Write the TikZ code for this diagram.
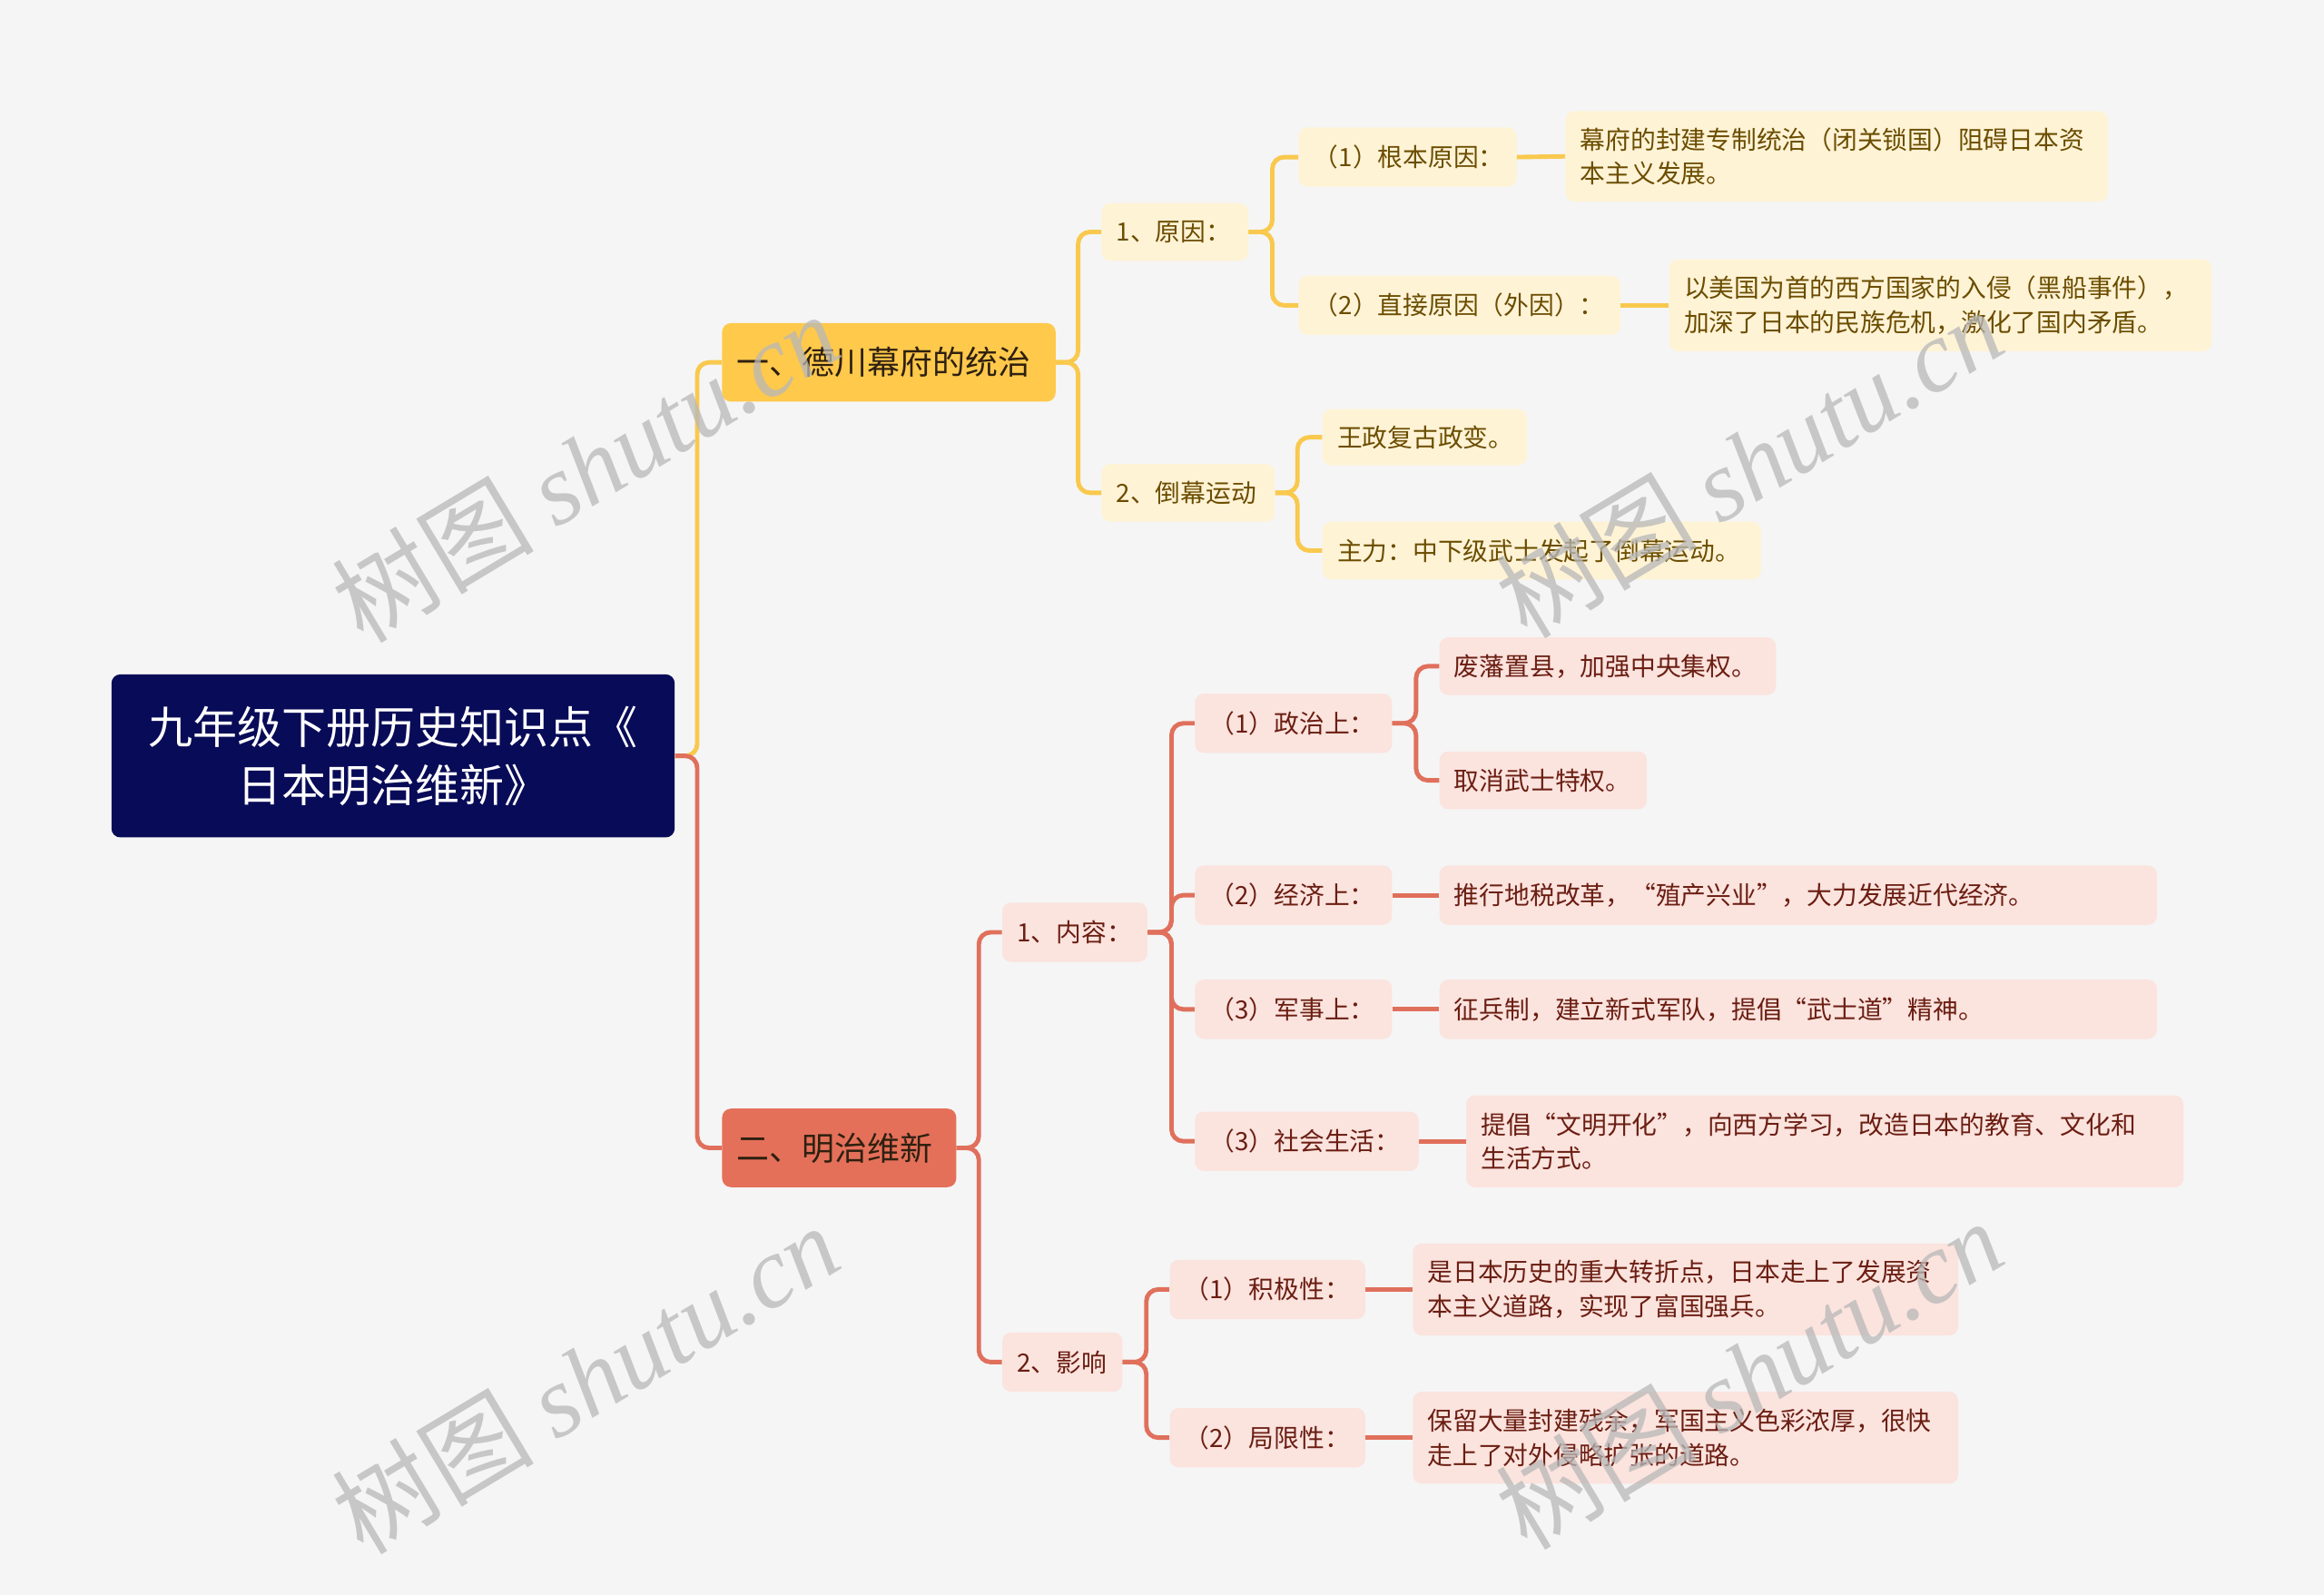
\documentclass[tikz,border=0pt]{standalone}
\usepackage{fontspec}
\setmainfont{Noto Sans CJK SC}
\newfontfamily\wmserif{Liberation Serif}
\definecolor{bgc}{HTML}{F5F5F5}
\definecolor{navy}{HTML}{080B57}
\definecolor{ybr}{HTML}{FFC94B}
\definecolor{ylt}{HTML}{FFF3D6}
\definecolor{yln}{HTML}{F9C94E}
\definecolor{ytx}{HTML}{6B4D00}
\definecolor{rbr}{HTML}{E4705A}
\definecolor{rlt}{HTML}{FBE3DE}
\definecolor{rln}{HTML}{E0705C}
\definecolor{rtx}{HTML}{6B1E12}
\definecolor{btx}{HTML}{2E2010}
\definecolor{wmc}{HTML}{B8B8B8}
\begin{document}
\begin{tikzpicture}[x=1pt,y=-1pt,
  box/.style={rounded corners=6pt, inner xsep=10pt, inner ysep=0pt, anchor=west, align=left},
  bw/.style={minimum width=#1, text width=#1-20pt},
  rootbox/.style={rounded corners=6pt, inner sep=0pt, anchor=west, fill=navy, text=white, align=center, font=\fontsize{30}{39}\selectfont},
  ybranch/.style={box, fill=ybr, text=btx, font=\fontsize{22}{26}\selectfont},
  rbranch/.style={box, fill=rbr, text=btx, font=\fontsize{22}{26}\selectfont},
  ynode/.style={box, fill=ylt, text=ytx, font=\fontsize{17}{23}\selectfont},
  rnode/.style={box, fill=rlt, text=rtx, font=\fontsize{17}{23}\selectfont},
  conY/.style={draw=yln, line width=3pt, rounded corners=8pt},
  conR/.style={draw=rln, line width=3pt, rounded corners=8pt},
  wm/.style={text=wmc, opacity=0.75, rotate=31, font=\fontsize{68}{68}\selectfont}
]
\fill[bgc] (0,0) rectangle (1568,1076);
\useasboundingbox (0,0) rectangle (1568,1076);

% nodes
\node[rootbox, minimum width=380pt, minimum height=110pt] (root) at (75,510) {九年级下册历史知识点《\\日本明治维新》};
\node[ybranch, bw=225pt, minimum height=53pt] (b1) at (487,244.5) {一、德川幕府的统治};
\node[rbranch, bw=158pt, minimum height=53pt] (b2) at (487,774.5) {二、明治维新};

\node[ynode, bw=99pt, minimum height=39pt] (c1) at (743,156.5) {1、原因：};
\node[ynode, bw=117pt, minimum height=39pt] (c2) at (743,332.5) {2、倒幕运动};
\node[ynode, bw=147pt, minimum height=40pt] (d1) at (876,106) {（1）根本原因：};
\node[ynode, bw=217pt, minimum height=40pt] (d2) at (876,206) {（2）直接原因（外因）：};
\node[ynode, bw=366pt, minimum height=61pt] (e1) at (1056,105.5) {幕府的封建专制统治（闭关锁国）阻碍日本资\\本主义发展。};
\node[ynode, bw=366pt, minimum height=62pt] (e2) at (1126,206) {以美国为首的西方国家的入侵（黑船事件），\\加深了日本的民族危机，激化了国内矛盾。};
\node[ynode, bw=138pt, minimum height=38pt] (e3) at (892,295) {王政复古政变。};
\node[ynode, bw=296pt, minimum height=39pt] (e4) at (892,371.5) {主力：中下级武士发起了倒幕运动。};

\node[rnode, bw=98pt, minimum height=40pt] (m1) at (676,629) {1、内容：};
\node[rnode, bw=81pt, minimum height=40pt] (m2) at (676,919) {2、影响};
\node[rnode, bw=133pt, minimum height=40pt] (n1) at (806,488) {（1）政治上：};
\node[rnode, bw=133pt, minimum height=40pt] (n2) at (806,604) {（2）经济上：};
\node[rnode, bw=133pt, minimum height=40pt] (n3) at (806,681) {（3）军事上：};
\node[rnode, bw=151pt, minimum height=40pt] (n4) at (806,770) {（3）社会生活：};
\node[rnode, bw=227pt, minimum height=39pt] (o1) at (971,449.5) {废藩置县，加强中央集权。};
\node[rnode, bw=140pt, minimum height=39pt] (o2) at (971,526.5) {取消武士特权。};
\node[rnode, bw=484pt, minimum height=40pt] (o3) at (971,604) {推行地税改革，“殖产兴业”，大力发展近代经济。};
\node[rnode, bw=484pt, minimum height=40pt] (o4) at (971,681) {征兵制，建立新式军队，提倡“武士道”精神。};
\node[rnode, bw=484pt, minimum height=62pt] (o5) at (989,770) {提倡“文明开化”，向西方学习，改造日本的教育、文化和\\生活方式。};
\node[rnode, bw=132pt, minimum height=40pt] (p1) at (789,870) {（1）积极性：};
\node[rnode, bw=132pt, minimum height=40pt] (p2) at (789,970) {（2）局限性：};
\node[rnode, bw=368pt, minimum height=62pt] (q1) at (953,870) {是日本历史的重大转折点，日本走上了发展资\\本主义道路，实现了富国强兵。};
\node[rnode, bw=368pt, minimum height=62pt] (q2) at (953,970) {保留大量封建残余，军国主义色彩浓厚，很快\\走上了对外侵略扩张的道路。};

% connectors
\path[conY] (root.east) -- ++(15,0) |- (b1.west);
\path[conR] (root.east) -- ++(15,0) |- (b2.west);
\path[conY] (b1.east) -- ++(15,0) |- (c1.west);
\path[conY] (b1.east) -- ++(15,0) |- (c2.west);
\path[conY] (c1.east) -- ++(16,0) |- (d1.west);
\path[conY] (c1.east) -- ++(16,0) |- (d2.west);
\path[conY] (d1.east) -- (e1.west);
\path[conY] (d2.east) -- (e2.west);
\path[conY] (c2.east) -- ++(15,0) |- (e3.west);
\path[conY] (c2.east) -- ++(15,0) |- (e4.west);
\path[conR] (b2.east) -- ++(15,0) |- (m1.west);
\path[conR] (b2.east) -- ++(15,0) |- (m2.west);
\path[conR] (m1.east) -- ++(16,0) |- (n1.west);
\path[conR] (m1.east) -- ++(16,0) |- (n2.west);
\path[conR] (m1.east) -- ++(16,0) |- (n3.west);
\path[conR] (m1.east) -- ++(16,0) |- (n4.west);
\path[conR] (n1.east) -- ++(16,0) |- (o1.west);
\path[conR] (n1.east) -- ++(16,0) |- (o2.west);
\path[conR] (n2.east) -- (o3.west);
\path[conR] (n3.east) -- (o4.west);
\path[conR] (n4.east) -- (o5.west);
\path[conR] (m2.east) -- ++(16,0) |- (p1.west);
\path[conR] (m2.east) -- ++(16,0) |- (p2.west);
\path[conR] (p1.east) -- (q1.west);
\path[conR] (p2.east) -- (q2.west);

% watermarks
\node[wm] (w1) at (395,315) {树图 {\wmserif\itshape shutu.cn}};
\node[wm] (w2) at (1180,312) {树图 {\wmserif\itshape shutu.cn}};
\node[wm] (w3) at (395,930) {树图 {\wmserif\itshape shutu.cn}};
\node[wm] (w4) at (1180,927) {树图 {\wmserif\itshape shutu.cn}};
\end{tikzpicture}
\end{document}
